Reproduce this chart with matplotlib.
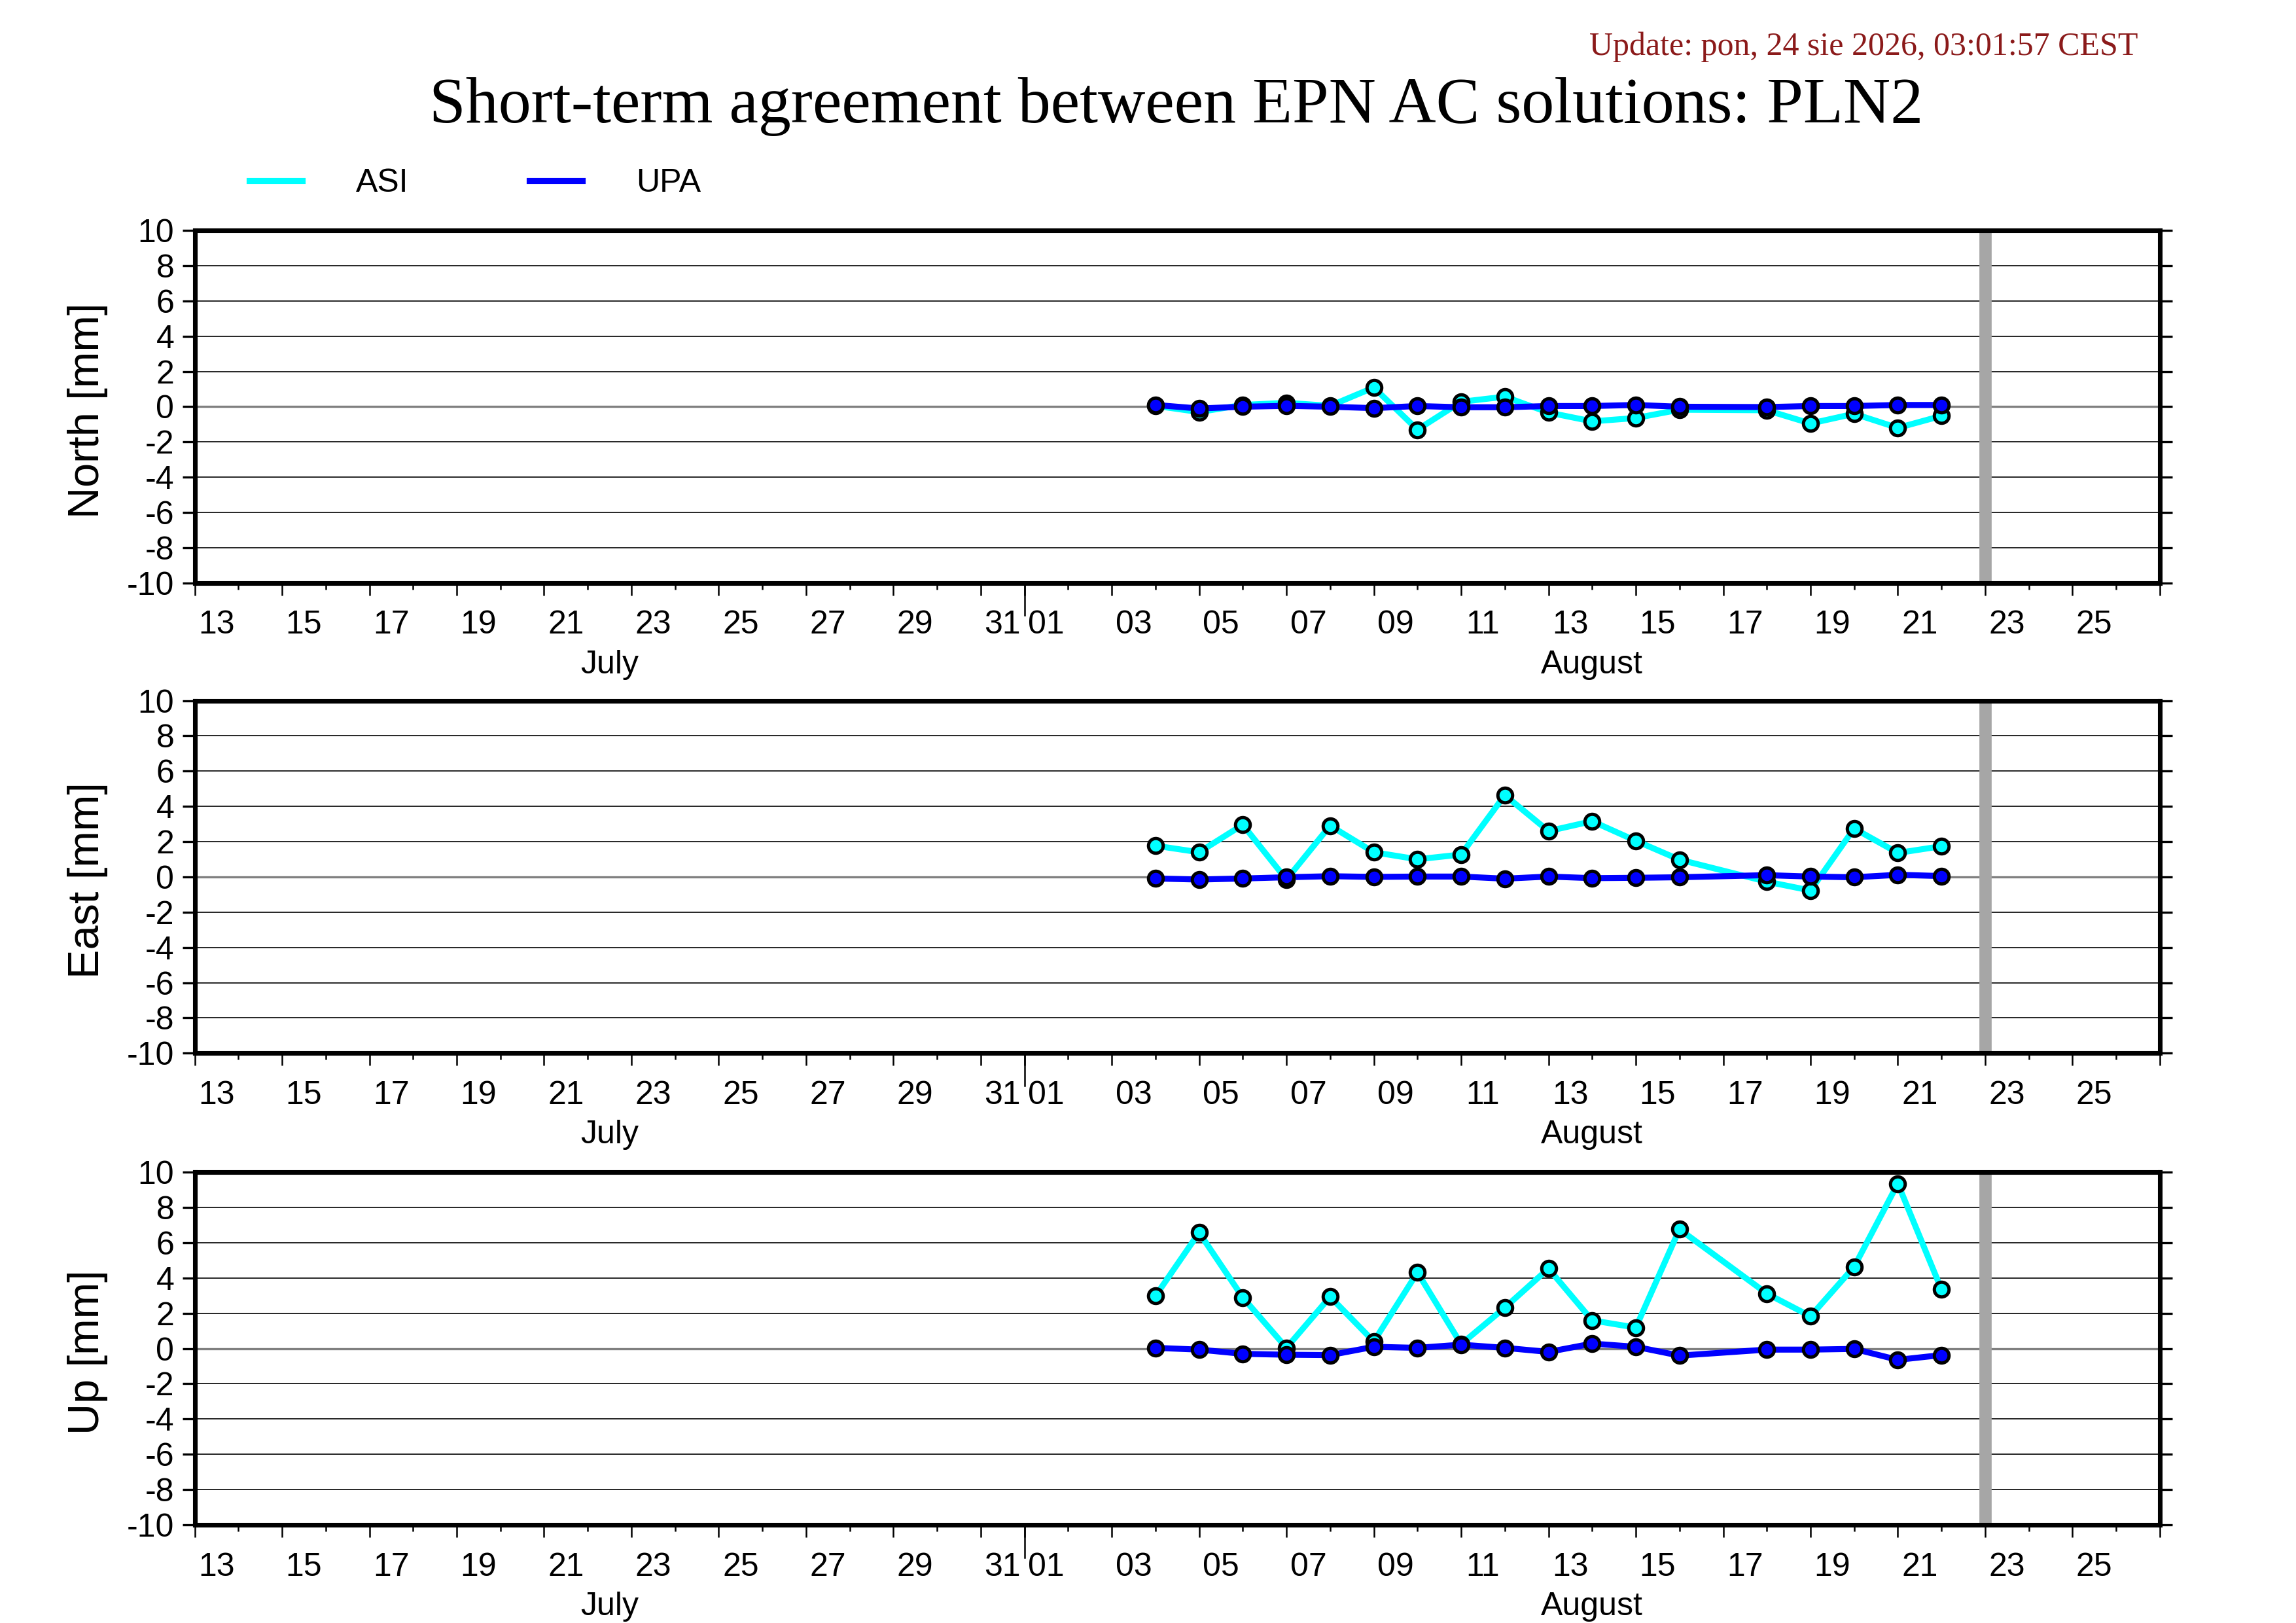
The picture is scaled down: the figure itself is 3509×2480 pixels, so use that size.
import matplotlib
matplotlib.use("Agg")
import matplotlib.pyplot as plt
import matplotlib.dates as mdates
from matplotlib.lines import Line2D
from datetime import datetime

plt.rcParams['font.family'] = ['Liberation Sans', 'DejaVu Sans']

# daily solutions (Aug 17 missing)
dates = ["2026-08-04", "2026-08-05", "2026-08-06", "2026-08-07", "2026-08-08",
         "2026-08-09", "2026-08-10", "2026-08-11", "2026-08-12", "2026-08-13",
         "2026-08-14", "2026-08-15", "2026-08-16", "2026-08-18", "2026-08-19",
         "2026-08-20", "2026-08-21", "2026-08-22"]

north_asi = [0.05, -0.30, 0.10, 0.22, 0.05, 1.09, -1.30, 0.28, 0.57, -0.33,
             -0.83, -0.64, -0.17, -0.20, -0.95, -0.40, -1.20, -0.52]
north_upa = [0.10, -0.10, 0.00, 0.05, 0.00, -0.08, 0.04, -0.03, -0.03, 0.04,
             0.04, 0.10, 0.00, -0.02, 0.04, 0.04, 0.10, 0.10]

east_asi = [1.77, 1.40, 2.96, -0.15, 2.91, 1.40, 1.00, 1.27, 4.64, 2.60,
            3.16, 2.05, 0.98, -0.27, -0.77, 2.75, 1.36, 1.74]
east_upa = [-0.09, -0.15, -0.09, -0.02, 0.04, 0.00, 0.02, 0.02, -0.10, 0.02,
            -0.07, -0.05, -0.02, 0.10, 0.02, -0.02, 0.12, 0.05]

up_asi = [2.98, 6.58, 2.90, 0.04, 2.94, 0.40, 4.32, 0.25, 2.32, 4.54,
          1.60, 1.19, 6.77, 3.12, 1.83, 4.64, 9.36, 3.35]
up_upa = [0.04, -0.06, -0.30, -0.35, -0.37, 0.10, 0.04, 0.22, 0.04, -0.19,
          0.28, 0.10, -0.40, -0.06, -0.06, -0.02, -0.64, -0.37]

components = ["North [mm]", "East [mm]", "Up [mm]"]
series_names = ["ASI", "UPA"]
series_colors = ["#00ffff", "#0000ff"]
panel_data = [(north_asi, north_upa), (east_asi, east_upa), (up_asi, up_upa)]

x_start = "2026-07-13"
x_end = "2026-08-27"
current_day = "2026-08-23"
month_start = "2026-08-01"
months = [("July", "2026-07-13", "2026-08-01"), ("August", "2026-08-01", "2026-08-27")]
y_ticks = list(range(-10, 11, 2))

title = "Short-term agreement between EPN AC solutions: PLN2"
update_text = "Update: pon, 24 sie 2026, 03:01:57 CEST"


def dn(s):
    return mdates.date2num(datetime.fromisoformat(s))


t = [dn(d) for d in dates]
x0, x1 = dn(x_start), dn(x_end)
days = [x0 + i for i in range(int(x1 - x0) + 1)]
odd_days = [d for d in days if mdates.num2date(d).day % 2 == 1]
even_days = [d for d in days if mdates.num2date(d).day % 2 == 0]
label_pos = [d + 0.5 for d in odd_days if d + 0.5 < x1]
label_txt = ["%02d" % mdates.num2date(d).day for d in odd_days if d + 0.5 < x1]

fig = plt.figure(figsize=(3509 / 300, 2480 / 300), dpi=300)

panel_bottoms = [0.6408, 0.3511, 0.0605]
left, width, height = 0.0848, 0.8559, 0.2172

for comp, (asi, upa), bottom in zip(components, panel_data, panel_bottoms):
    ax = fig.add_axes([left, bottom, width, height])
    ax.set_xlim(x0, x1)
    ax.set_ylim(-10, 10)

    for y in y_ticks:
        if y not in (-10, 10):
            ax.axhline(y, color='#808080' if y == 0 else 'black',
                       lw=0.8 if y == 0 else 0.4, zorder=1)
    ax.axvline(dn(current_day), color='#a6a6a6', lw=4.5, zorder=2)

    for vals, c in zip((asi, upa), series_colors):
        ax.plot(t, vals, '-o', color=c, lw=2.2, ms=5.4, mfc=c, mec='black',
                mew=1.2, zorder=3, clip_on=False)

    ax.set_yticks(y_ticks)
    ax.set_yticklabels([str(v) for v in y_ticks])
    ax.tick_params(axis='y', which='both', direction='out', length=4.5, width=0.8,
                   left=True, right=True, labelsize=12, pad=3)
    ax.set_xticks(odd_days)
    ax.set_xticks(even_days, minor=True)
    ax.tick_params(axis='x', which='major', direction='out', length=4.5, width=0.6,
                   labelbottom=False)
    ax.tick_params(axis='x', which='minor', direction='out', length=2.4, width=0.6)

    for sp in ax.spines.values():
        sp.set_linewidth(1.7)
        sp.set_zorder(5)

    # month boundary tick
    ax.plot([dn(month_start)] * 2, [0, -0.092], transform=ax.get_xaxis_transform(),
            color='black', lw=0.6, clip_on=False)

    sec = ax.secondary_xaxis('bottom')
    sec.set_xticks(label_pos, label_txt)
    sec.tick_params(length=0, labelsize=12, pad=10)
    sec.spines['bottom'].set_visible(False)

    for name, a, b in months:
        ax.text((dn(a) + dn(b)) / 2, -0.232, name, transform=ax.get_xaxis_transform(),
                ha='center', va='center', fontsize=12)

    ax.set_ylabel(comp, fontsize=16, va='center')
    ax.yaxis.set_label_coords(-0.0544, 0.49)

fig.text(0.5124, 0.9341, title, ha='center', va='center', fontsize=24,
         family=['Liberation Serif', 'DejaVu Serif'])
fig.text(0.9311, 0.9711, update_text, ha='right', va='center', fontsize=12,
         color='#8b1a1a', family=['Liberation Serif', 'DejaVu Serif'])

handles = [Line2D([], [], color=c, lw=2.2) for c in series_colors]
fig.legend(handles, series_names, loc='center left', bbox_to_anchor=(0.1085, 0.887),
           ncol=2, frameon=False, fontsize=12, handlelength=1.62, handletextpad=1.64,
           columnspacing=3.7, borderpad=0, borderaxespad=0)

fig.savefig("out.png", dpi=300)
